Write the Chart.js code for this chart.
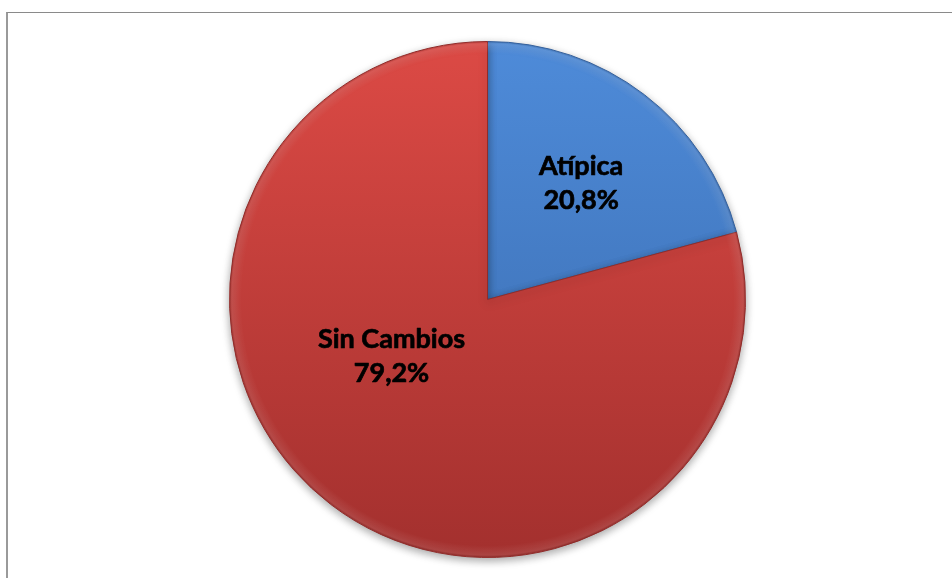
<!DOCTYPE html>
<html>
<head>
<meta charset="utf-8">
<title>Atípica / Sin Cambios</title>
<script src="https://cdn.jsdelivr.net/npm/chart.js@4/dist/chart.umd.min.js"></script>
<style>
    html, body { margin: 0; padding: 0; background: #fff; }
    #wrap { position: relative; width: 952px; height: 578px; }
    #frame {
        position: absolute; left: 6px; top: 12px; right: 0; bottom: -4px;
        border-top: 1px solid #8a8a8a;
        border-left: 2px solid #9a9a9a;
    }
    canvas { position: absolute; left: 0; top: 0; }
</style>
</head>
<body>
<div id="wrap">
    <div id="frame"></div>
    <canvas id="pieChart" width="952" height="578"></canvas>
</div>
<script>
// Slices, clockwise from 12 o'clock
const labels = ['Atípica', 'Sin Cambios'];
const values = [20.8, 79.2];
const valueText = ['20,8%', '79,2%'];

// top / bottom shades for each slice
const topColors = ['#4e8bd9', '#dc4a45'];
const bottomColors = ['#3868aa', '#a3302e'];
const edgeColors = ['#34609c', '#902c2a'];

// where each label sits, as a fraction of the radius from the centre
const labelSpots = [[0.363, -0.45], [-0.372, 0.222]];

function sliceGradient(context) {
    const chart = context.chart;
    const area = chart.chartArea;
    if (!area) return topColors[context.dataIndex];
    const g = chart.ctx.createLinearGradient(0, area.top, 0, area.bottom);
    g.addColorStop(0, topColors[context.dataIndex]);
    g.addColorStop(1, bottomColors[context.dataIndex]);
    return g;
}

// soft drop shadow under the pie
const pieShadow = {
    id: 'pieShadow',
    beforeDatasetDraw(chart) {
        const ctx = chart.ctx;
        ctx.save();
        ctx.shadowColor = 'rgba(0,0,0,0.35)';
        ctx.shadowBlur = 8;
        ctx.shadowOffsetY = 3;
    },
    afterDatasetDraw(chart) {
        chart.ctx.restore();
        // light bevel along the rim
        const arc = chart.getDatasetMeta(0).data[0];
        const ctx = chart.ctx;
        ctx.save();
        const r = arc.outerRadius;
        const g = ctx.createRadialGradient(arc.x, arc.y, r - 12, arc.x, arc.y, r);
        g.addColorStop(0, 'rgba(255,255,255,0)');
        g.addColorStop(0.8, 'rgba(255,255,255,0.10)');
        g.addColorStop(1, 'rgba(0,0,0,0.12)');
        ctx.beginPath();
        ctx.arc(arc.x, arc.y, r - 0.5, 0, Math.PI * 2);
        ctx.fillStyle = g;
        ctx.fill();
        ctx.restore();
    }
};

// two-line labels inside the slices
const sliceLabels = {
    id: 'sliceLabels',
    afterDatasetsDraw(chart) {
        const ctx = chart.ctx;
        const meta = chart.getDatasetMeta(0);
        ctx.save();
        ctx.fillStyle = '#000';
        ctx.strokeStyle = '#000';
        ctx.lineWidth = 0.7;
        ctx.lineJoin = 'round';
        ctx.font = 'bold 27px Lato';
        ctx.textAlign = 'center';
        ctx.textBaseline = 'middle';
        meta.data.forEach(function (arc, i) {
            const r = arc.outerRadius;
            const x = arc.x + labelSpots[i][0] * r;
            const y = arc.y + labelSpots[i][1] * r;
            [[labels[i], y - 17], [valueText[i], y + 17]].forEach(function (line) {
                ctx.fillText(line[0], x, line[1]);
                ctx.strokeText(line[0], x, line[1]);
            });
        });
        ctx.restore();
    }
};

new Chart(document.getElementById('pieChart'), {
    type: 'pie',
    data: {
        labels: labels,
        datasets: [{
            data: values,
            backgroundColor: sliceGradient,
            borderColor: edgeColors,
            borderWidth: 1
        }]
    },
    options: {
        responsive: false,
        animation: false,
        layout: { padding: { left: 229, right: 206, top: 41, bottom: 20 } },
        plugins: {
            legend: { display: false },
            tooltip: { enabled: false }
        }
    },
    plugins: [pieShadow, sliceLabels]
});
</script>
</body>
</html>
